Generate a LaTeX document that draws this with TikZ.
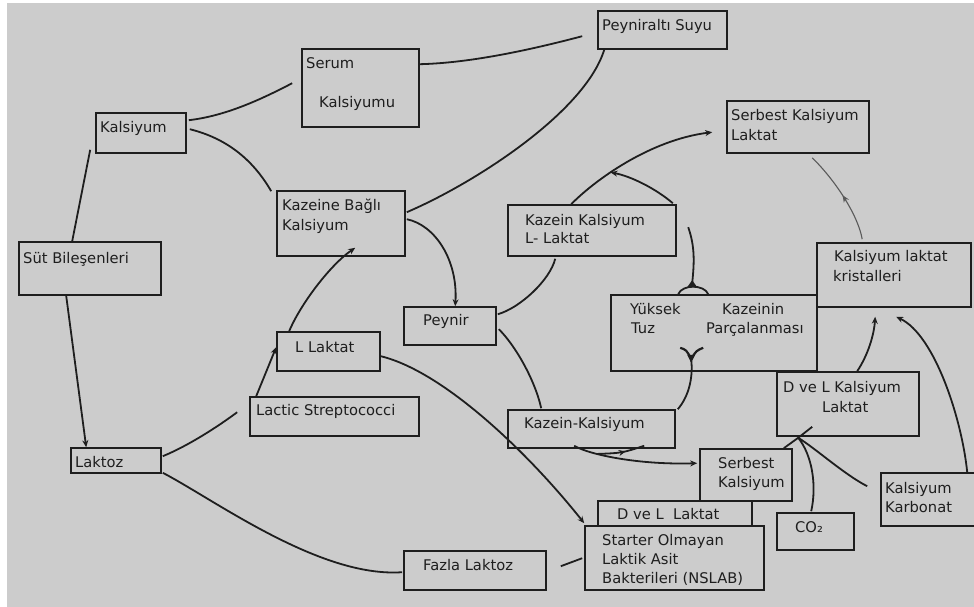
\documentclass[tikz,border=0pt]{standalone}
\usepackage{fontspec}
\setmainfont{DejaVu Sans}
\usetikzlibrary{arrows.meta,calc,decorations.markings}
\definecolor{bgray}{RGB}{204,204,204}
\definecolor{ink}{RGB}{30,30,30}
\definecolor{faint}{RGB}{90,90,90}
\begin{document}
\begin{tikzpicture}[x=1pt,y=-1pt,
 box/.style={draw=ink, line width=1.6pt, fill=bgray, inner sep=0pt, anchor=center},
 lbl/.style={anchor=base west, inner sep=0pt, text=ink, font=\fontsize{14.7}{17}\selectfont},
 conn/.style={draw=ink, line width=1.8pt},
 arr/.style={conn, -{Stealth[length=7pt,width=6pt]}},
 midarr/.style={postaction={decorate}, decoration={markings, mark=at position #1 with {\arrow{Stealth[length=7pt,width=6pt]}}}},
]
\useasboundingbox (0,0) rectangle (974,607);
\clip (0,0) rectangle (974,607);
\fill[white] (0,0) rectangle (974,607);
\fill[bgray] (7,3) rectangle (974,607);

% boxes
\node[box, minimum width=117pt, minimum height=78pt] (serum) at (360.5,88) {};
\node[box, minimum width=90pt, minimum height=40pt] (kals) at (141,133) {};
\node[box, minimum width=128pt, minimum height=65pt] (kbag) at (341,223.5) {};
\node[box, minimum width=142pt, minimum height=53pt] (sut) at (90,268.5) {};
\node[box, minimum width=129pt, minimum height=38pt] (pals) at (662.5,30) {};
\node[box, minimum width=142pt, minimum height=52pt] (skl) at (798,127) {};
\node[box, minimum width=168pt, minimum height=51pt] (kkl) at (592,230.5) {};
\node[box, minimum width=206pt, minimum height=76pt] (ytuz) at (714,333) {};
\node[box, minimum width=154pt, minimum height=64pt] (klk) at (894,275) {};
\node[box, minimum width=142pt, minimum height=64pt] (dvlk) at (848,404) {};
\node[box, minimum width=92pt, minimum height=38pt] (peynir) at (450,326) {};
\node[box, minimum width=103pt, minimum height=39pt] (llak) at (328.5,351.5) {};
\node[box, minimum width=169pt, minimum height=39pt] (lstr) at (334.5,416.5) {};
\node[box, minimum width=90pt, minimum height=25pt] (laktoz) at (116,460.5) {};
\node[box, minimum width=142pt, minimum height=39pt] (fazla) at (475,570.5) {};
\node[box, minimum width=167pt, minimum height=38pt] (kk) at (591.5,429) {};
\node[box, minimum width=92pt, minimum height=52pt] (sk) at (746,475) {};
\node[box, minimum width=154pt, minimum height=29pt] (dvl) at (675,515.5) {};
\node[box, minimum width=179pt, minimum height=64pt] (nslab) at (674.5,558) {};
\node[box, minimum width=77pt, minimum height=37pt] (co2) at (815.5,531.5) {};
\node[box, minimum width=104pt, minimum height=53pt] (karb) at (933,499.5) {};

% labels
\node[lbl] (t1) at (306,69) {Serum};
\node[lbl] (t2) at (319,107.5) {Kalsiyumu};
\node[lbl] (t3) at (100,132.5) {Kalsiyum};
\node[lbl] (t4) at (282,210) {Kazeine Bağlı};
\node[lbl] (t5) at (282,230) {Kalsiyum};
\node[lbl] (t6) at (23,263) {Süt Bileşenleri};
\node[lbl] (t7) at (602,31) {Peyniraltı Suyu};
\node[lbl] (t8) at (731,121) {Serbest Kalsiyum};
\node[lbl] (t9) at (731,141) {Laktat};
\node[lbl] (t10) at (525,225) {Kazein Kalsiyum};
\node[lbl] (t11) at (525,243.5) {L- Laktat};
\node[lbl] (t12) at (834,261.5) {Kalsiyum laktat};
\node[lbl] (t13) at (833,281.5) {kristalleri};
\node[lbl] (t14) at (630,314.5) {Yüksek};
\node[lbl] (t15) at (631,333) {Tuz};
\node[lbl] (t16) at (722,314.5) {Kazeinin};
\node[lbl] (t17) at (706,333) {Parçalanması};
\node[lbl] (t18) at (783,392.5) {D ve L Kalsiyum};
\node[lbl] (t19) at (822,412) {Laktat};
\node[lbl] (t20) at (423,325.5) {Peynir};
\node[lbl] (t21) at (295,352.5) {L Laktat};
\node[lbl] (t22) at (256,415.5) {Lactic Streptococci};
\node[lbl] (t23) at (75,467.5) {Laktoz};
\node[lbl] (t24) at (423,570.5) {Fazla Laktoz};
\node[lbl] (t25) at (524,428.5) {Kazein-Kalsiyum};
\node[lbl] (t26) at (718,468) {Serbest};
\node[lbl] (t27) at (718,487.5) {Kalsiyum};
\node[lbl] (t28) at (617,519.5) {D ve L\ \ Laktat};
\node[lbl] (t29) at (602,545.5) {Starter Olmayan};
\node[lbl] (t30) at (602,564.5) {Laktik Asit};
\node[lbl] (t31) at (602,583.5) {Bakterileri (NSLAB)};
\node[lbl] (t32) at (795,532.5) {CO₂};
\node[lbl] (t33) at (885,493.5) {Kalsiyum};
\node[lbl] (t34) at (885,512.5) {Karbonat};

% connectors
\draw[conn] ($(sut.north west)+(54,0)$) -- ($(kals.south west)+(-5,-4)$);
\draw[arr] ($(sut.south west)+(48,0)$) -- ($(laktoz.north west)+(16,0)$);
\draw[conn] ($(kals.north east)+(2,8)$) .. controls (225,116) and (260,100) .. ($(serum.north west)+(-9,35)$);
\draw[conn] ($(kals.north east)+(3,17)$) .. controls (225,138) and (252,158) .. ($(kbag.north west)+(-5,1)$);
\draw[conn] ($(serum.north east)+(0,16)$) .. controls (470,63) and (530,50) .. ($(pals.north west)+(-15,26)$);
\draw[conn] ($(kbag.north east)+(1,22)$) .. controls (475,183) and (585,112) .. ($(pals.south west)+(7,0)$);
\draw[arr] ($(kbag.north east)+(1,29)$) .. controls (435,225) and (458,260) .. ($(peynir.north west)+(52,0)$);
\draw[arr] ($(llak.north west)+(13,0)$) .. controls (300,305) and (330,265) .. ($(kbag.south west)+(79,-9)$);
\draw[arr] ($(lstr.north west)+(7,0)$) -- ($(llak.north west)+(0,16)$);
\draw[conn] ($(laktoz.north east)+(1,9)$) .. controls (190,445) and (220,425) .. ($(lstr.north west)+(-12,16)$);
\draw[conn] ($(laktoz.south east)+(1,-1)$) .. controls (215,500) and (320,578) .. ($(fazla.north west)+(-1,22)$);
\draw[arr] ($(llak.north east)+(0,25)$) .. controls (445,372) and (530,455) .. ($(nslab.north west)+(0,-2)$);
\draw[conn] ($(peynir.north east)+(1,8)$) .. controls (520,308) and (550,280) .. ($(kkl.south west)+(48,2)$);
\draw[conn] ($(peynir.north east)+(2,23)$) .. controls (515,345) and (535,380) .. ($(kk.north west)+(34,-1)$);
\draw[arr] ($(kkl.north west)+(64,0)$) .. controls (595,180) and (650,140) .. coordinate[pos=0.38] (j1) ($(skl.north west)+(-14,32)$);
\draw[arr] ($(kkl.north east)+(-4,-1)$) .. controls (655,188) and (630,176) .. (j1);
% line into top of Yuksek box with fork
\draw[conn] ($(ytuz.north west)+(78,-67)$) .. controls +(7,20) and +(2,-20) .. ($(ytuz.north west)+(82,-11)$);
\draw[conn] ($(ytuz.north west)+(68,0)$) .. controls +(4,-10) and +(-4,-10) .. ($(ytuz.north west)+(98,0)$);
\fill[ink] ($(ytuz.north west)+(77,-7)$) -- ($(ytuz.north west)+(82,-14)$) -- ($(ytuz.north west)+(87,-7)$) -- cycle;
% line into bottom of Yuksek box with fork
\draw[conn] ($(kk.north east)+(2,0)$) .. controls (690,395) and (693,375) .. ($(ytuz.south west)+(81,-12)$);
\draw[ink, line width=2.2pt] ($(ytuz.south west)+(70,-24)$) .. controls +(6,2) .. ($(ytuz.south west)+(81,-13)$) .. controls +(5,-8) .. ($(ytuz.south west)+(93,-24)$);
\fill[ink] ($(ytuz.south west)+(77,-17)$) -- ($(ytuz.south west)+(85,-17)$) -- ($(ytuz.south west)+(81,-9)$) -- cycle;
% Kazein-Kalsiyum to Serbest Kalsiyum
\draw[arr] ($(kk.south west)+(67,-3)$) .. controls (590,455) and (640,465) .. coordinate[pos=0.3] (j2) ($(sk.north west)+(-2,15)$);
\draw[conn, midarr=0.6] (j2) .. controls (622,453) .. ($(kk.south west)+(137,-3)$);
% junction below D ve L Kalsiyum Laktat
\coordinate (J) at ($(dvlk.south west)+(22,1)$);
\draw[conn] ($(sk.north east)+(-9,0)$) -- (J) -- ($(dvlk.south west)+(36,-10)$);
\draw[conn] ($(co2.north west)+(35,-1)$) .. controls (817,485) and (812,455) .. (J);
\draw[conn] ($(karb.north west)+(-13,14)$) .. controls (845,475) and (815,448) .. (J);
\draw[arr] ($(dvlk.north west)+(81,0)$) .. controls (868,355) and (874,335) .. ($(klk.south west)+(59,9)$);
\draw[arr] ($(karb.north west)+(87,0)$) .. controls (962,420) and (935,335) .. ($(klk.south west)+(80,9)$);
\draw[draw=faint, line width=1.1pt, midarr=0.5] ($(klk.north west)+(46,-3)$) .. controls (858,215) and (835,180) .. ($(skl.south west)+(86,4)$);
\draw[conn] ($(fazla.north east)+(14,16)$) -- ($(nslab.north west)+(-2,33)$);
\end{tikzpicture}
\end{document}
